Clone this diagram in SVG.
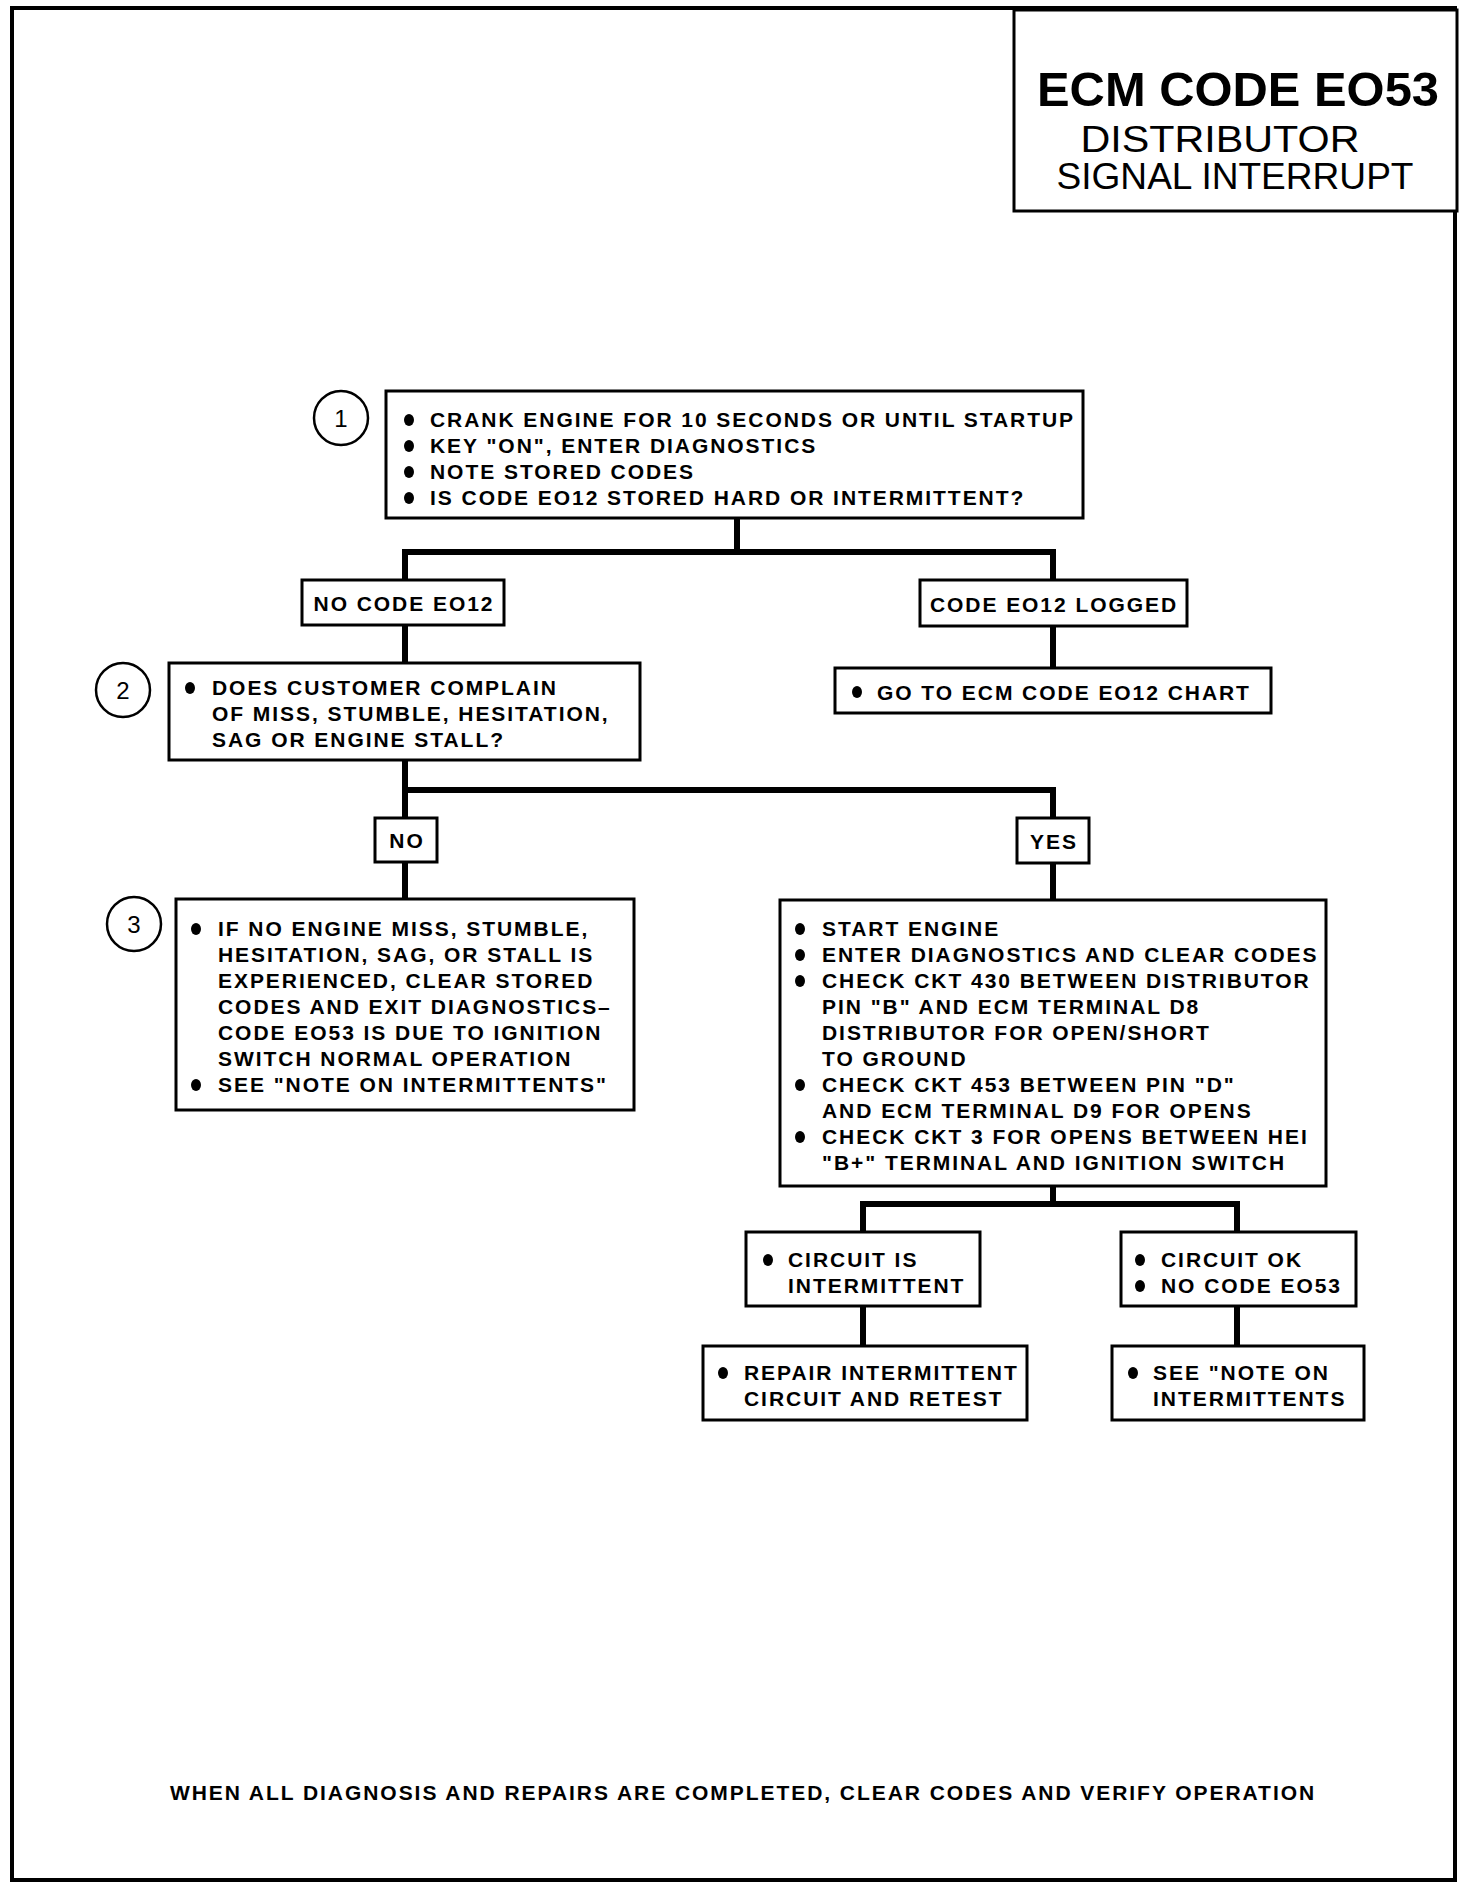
<svg xmlns="http://www.w3.org/2000/svg" width="1472" height="1888" viewBox="0 0 1472 1888">
<style>
.bx{fill:#fff;stroke:#000;stroke-width:3}
.cn{fill:none;stroke:#000;stroke-width:6;stroke-linecap:square}
.t{font-family:"Liberation Sans",Arial,sans-serif;font-weight:bold;font-size:21px;letter-spacing:1.95px;fill:#000}
.c{text-anchor:middle}
.num{font-family:"Liberation Sans",Arial,sans-serif;font-size:24px;fill:#000;text-anchor:middle}
.circ{fill:#fff;stroke:#000;stroke-width:2.5}
.b{fill:#000}
.st{font-family:"Liberation Sans",Arial,sans-serif;font-size:37px;text-anchor:middle;fill:#000}
</style>
<rect x="0" y="0" width="1472" height="1888" fill="#fff"/>
<rect x="12" y="8" width="1443" height="1872" fill="none" stroke="#000" stroke-width="4"/>

<g id="title">
<rect x="1014" y="10" width="443" height="201" fill="#fff" stroke="#000" stroke-width="3"/>
<text x="1238" y="106" font-family="Liberation Sans,Arial,sans-serif" font-weight="bold" font-size="49" text-anchor="middle" textLength="402" lengthAdjust="spacingAndGlyphs">ECM CODE EO53</text>
<text class="st" x="1220" y="152" textLength="279" lengthAdjust="spacingAndGlyphs">DISTRIBUTOR</text>
<text class="st" x="1235" y="189" textLength="357" lengthAdjust="spacingAndGlyphs">SIGNAL INTERRUPT</text>
</g>

<g id="connectors">
<path class="cn" d="M737 518 V552 M405 552 H1053 M405 552 V580 M1053 552 V580"/>
<path class="cn" d="M405 625 V663 M1053 626 V668"/>
<path class="cn" d="M405 760 V790 H1053 M405 790 V818 M1053 790 V818 M405 862 V899 M1053 863 V900"/>
<path class="cn" d="M1053 1186 V1204 M863 1204 H1237 M863 1204 V1232 M1237 1204 V1232 M863 1306 V1346 M1237 1306 V1346"/>
</g>

<g id="step1">
<circle class="circ" cx="341" cy="418" r="27"/>
<text class="num" x="341" y="427">1</text>
<rect class="bx" x="386" y="391" width="697" height="127"/>
<ellipse class="b" cx="409" cy="420" rx="5" ry="6"/>
<ellipse class="b" cx="409" cy="446" rx="5" ry="6"/>
<ellipse class="b" cx="409" cy="472" rx="5" ry="6"/>
<ellipse class="b" cx="409" cy="498" rx="5" ry="6"/>
<text class="t" x="430" y="427">CRANK ENGINE FOR 10 SECONDS OR UNTIL STARTUP</text>
<text class="t" x="430" y="453">KEY "ON", ENTER DIAGNOSTICS</text>
<text class="t" x="430" y="479">NOTE STORED CODES</text>
<text class="t" x="430" y="505">IS CODE EO12 STORED HARD OR INTERMITTENT?</text>
</g>

<g id="no-code">
<rect class="bx" x="302" y="580" width="202" height="45"/>
<text class="t c" x="404" y="611">NO CODE EO12</text>
</g>

<g id="code-logged">
<rect class="bx" x="920" y="580" width="267" height="46"/>
<text class="t c" x="1054" y="612">CODE EO12 LOGGED</text>
</g>

<g id="goto-chart">
<rect class="bx" x="835" y="668" width="436" height="45"/>
<ellipse class="b" cx="857" cy="692" rx="5" ry="6"/>
<text class="t" x="877" y="700">GO TO ECM CODE EO12 CHART</text>
</g>

<g id="step2">
<circle class="circ" cx="123" cy="690" r="27"/>
<text class="num" x="123" y="699">2</text>
<rect class="bx" x="169" y="663" width="471" height="97"/>
<ellipse class="b" cx="190" cy="688" rx="5" ry="6"/>
<text class="t" x="212" y="695">DOES CUSTOMER COMPLAIN</text>
<text class="t" x="212" y="721">OF MISS, STUMBLE, HESITATION,</text>
<text class="t" x="212" y="747">SAG OR ENGINE STALL?</text>
</g>

<g id="no">
<rect class="bx" x="375" y="818" width="62" height="44"/>
<text class="t c" x="407" y="848">NO</text>
</g>

<g id="yes">
<rect class="bx" x="1017" y="818" width="72" height="45"/>
<text class="t c" x="1054" y="849">YES</text>
</g>

<g id="step3">
<circle class="circ" cx="134" cy="924" r="27"/>
<text class="num" x="134" y="933">3</text>
<rect class="bx" x="176" y="899" width="458" height="211"/>
<ellipse class="b" cx="196" cy="929" rx="5" ry="6"/>
<ellipse class="b" cx="196" cy="1085" rx="5" ry="6"/>
<text class="t" x="218" y="936">IF NO ENGINE MISS, STUMBLE,</text>
<text class="t" x="218" y="962">HESITATION, SAG, OR STALL IS</text>
<text class="t" x="218" y="988">EXPERIENCED, CLEAR STORED</text>
<text class="t" x="218" y="1014">CODES AND EXIT DIAGNOSTICS–</text>
<text class="t" x="218" y="1040">CODE EO53 IS DUE TO IGNITION</text>
<text class="t" x="218" y="1066">SWITCH NORMAL OPERATION</text>
<text class="t" x="218" y="1092">SEE "NOTE ON INTERMITTENTS"</text>
</g>

<g id="yes-steps">
<rect class="bx" x="780" y="900" width="546" height="286"/>
<ellipse class="b" cx="800" cy="929" rx="5" ry="6"/>
<ellipse class="b" cx="800" cy="955" rx="5" ry="6"/>
<ellipse class="b" cx="800" cy="981" rx="5" ry="6"/>
<ellipse class="b" cx="800" cy="1085" rx="5" ry="6"/>
<ellipse class="b" cx="800" cy="1137" rx="5" ry="6"/>
<text class="t" x="822" y="936">START ENGINE</text>
<text class="t" x="822" y="962">ENTER DIAGNOSTICS AND CLEAR CODES</text>
<text class="t" x="822" y="988">CHECK CKT 430 BETWEEN DISTRIBUTOR</text>
<text class="t" x="822" y="1014">PIN "B" AND ECM TERMINAL D8</text>
<text class="t" x="822" y="1040">DISTRIBUTOR FOR OPEN/SHORT</text>
<text class="t" x="822" y="1066">TO GROUND</text>
<text class="t" x="822" y="1092">CHECK CKT 453 BETWEEN PIN "D"</text>
<text class="t" x="822" y="1118">AND ECM TERMINAL D9 FOR OPENS</text>
<text class="t" x="822" y="1144">CHECK CKT 3 FOR OPENS BETWEEN HEI</text>
<text class="t" x="822" y="1170">"B+" TERMINAL AND IGNITION SWITCH</text>
</g>

<g id="circuit-intermittent">
<rect class="bx" x="746" y="1232" width="234" height="74"/>
<ellipse class="b" cx="768" cy="1260" rx="5" ry="6"/>
<text class="t" x="788" y="1267">CIRCUIT IS</text>
<text class="t" x="788" y="1293">INTERMITTENT</text>
</g>

<g id="circuit-ok">
<rect class="bx" x="1121" y="1232" width="235" height="74"/>
<ellipse class="b" cx="1140" cy="1260" rx="5" ry="6"/>
<ellipse class="b" cx="1140" cy="1286" rx="5" ry="6"/>
<text class="t" x="1161" y="1267">CIRCUIT OK</text>
<text class="t" x="1161" y="1293">NO CODE EO53</text>
</g>

<g id="repair">
<rect class="bx" x="703" y="1346" width="324" height="74"/>
<ellipse class="b" cx="723" cy="1373" rx="5" ry="6"/>
<text class="t" x="744" y="1380">REPAIR INTERMITTENT</text>
<text class="t" x="744" y="1406">CIRCUIT AND RETEST</text>
</g>

<g id="see-note">
<rect class="bx" x="1112" y="1346" width="252" height="74"/>
<ellipse class="b" cx="1133" cy="1373" rx="5" ry="6"/>
<text class="t" x="1153" y="1380">SEE "NOTE ON</text>
<text class="t" x="1153" y="1406">INTERMITTENTS</text>
</g>

<g id="footer">
<text class="t c" x="743" y="1800">WHEN ALL DIAGNOSIS AND REPAIRS ARE COMPLETED, CLEAR CODES AND VERIFY OPERATION</text>
</g>
</svg>
